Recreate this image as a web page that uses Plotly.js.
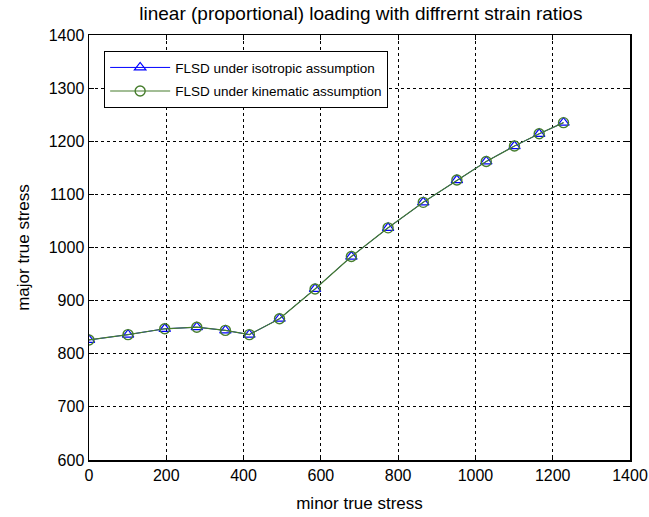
<!DOCTYPE html>
<html>
<head>
<meta charset="utf-8">
<script src="https://cdn.plot.ly/plotly-3.0.1.min.js"></script>
<style>html,body{margin:0;padding:0;background:#fff;}#plot{width:649px;height:517px;}</style>
</head>
<body>
<div id="plot"></div>
<script>
var minorStress = [0, 101, 196, 279, 353, 415, 493, 585, 679, 774, 865, 952, 1028, 1101, 1165, 1228];
var majorIsotropic = [826, 836, 847, 850, 844, 836, 866, 922, 983, 1037, 1085, 1127, 1162, 1191, 1214, 1235];
var majorKinematic = [826, 836, 847, 850, 844, 836, 866, 922, 983, 1037, 1085, 1127, 1162, 1191, 1214, 1235];
var seriesNames = ['FLSD under isotropic assumption', 'FLSD under kinematic assumption'];
var xTicks = [0, 200, 400, 600, 800, 1000, 1200, 1400];
var yTicks = [600, 700, 800, 900, 1000, 1100, 1200, 1300, 1400];

var font = 'Liberation Sans, Arial, sans-serif';
var traces = [
  {x: minorStress, y: majorIsotropic, name: seriesNames[0], mode: 'lines+markers', type: 'scatter',
   legendgroup: 'a',
   line: {color: '#0000ff', width: 1},
   marker: {symbol: 'triangle-up-open', size: 10, color: '#0000ff', line: {width: 1.2}}},
  {x: minorStress, y: majorKinematic, name: seriesNames[1], mode: 'lines+markers', type: 'scatter',
   legendgroup: 'b',
   line: {color: 'rgb(70,125,45)', width: 1.2},
   marker: {symbol: 'circle-open', size: 10, color: 'rgb(70,125,45)', line: {width: 1.4}}}
];
var axisCommon = {
  showline: true, linecolor: '#000', linewidth: 1.5, mirror: 'ticks',
  ticks: 'inside', ticklen: 5, tickcolor: '#000',
  showgrid: true, gridcolor: '#000', griddash: '3px,3px', gridwidth: 1,
  zeroline: false, tickfont: {family: font, size: 16, color: '#000'},
  ticklabeloverflow: 'allow'
};
var layout = {
  width: 649, height: 517,
  margin: {l: 89, r: 19, t: 35, b: 57},
  paper_bgcolor: '#fff', plot_bgcolor: '#fff',
  title: {text: 'linear (proportional) loading with diffrernt strain ratios', font: {family: font, size: 19, color: '#000'}, x: 0.556, xanchor: 'center', y: 0.975, yanchor: 'middle'},
  xaxis: Object.assign({}, axisCommon, {range: [0, 1400], tickvals: xTicks,
    title: {text: 'minor true stress', font: {family: font, size: 17, color: '#000'}, standoff: 14}}),
  yaxis: Object.assign({}, axisCommon, {range: [600, 1400], tickvals: yTicks,
    title: {text: 'major true stress', font: {family: font, size: 17, color: '#000'}, standoff: 15}}),
  showlegend: true,
  legend: {x: 0.028, y: 0.962, xanchor: 'left', yanchor: 'top', bgcolor: '#fff', bordercolor: '#000', borderwidth: 1,
    font: {family: font, size: 13.5, color: '#000'}, tracegroupgap: 3, itemwidth: 60}
};
Plotly.newPlot('plot', traces, layout, {staticPlot: true, displayModeBar: false});
</script>
</body>
</html>
